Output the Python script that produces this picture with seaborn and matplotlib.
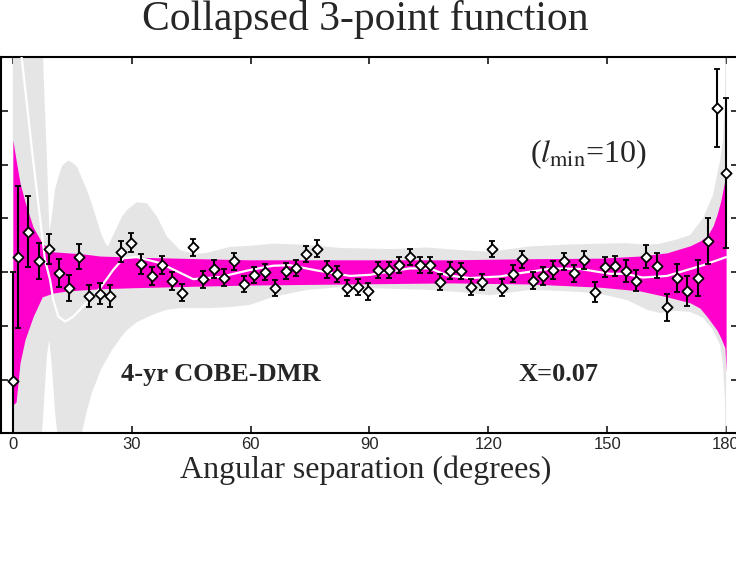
import numpy as np
import pandas as pd
import matplotlib.pyplot as plt
import seaborn as sns

# binned collapsed 3-point function: separation (deg), value, 1-sigma error
sep_deg = [0.0, 1.4, 3.9, 6.5, 9.1, 11.6, 14.2, 16.8, 19.3, 22.0,
           24.6, 27.2, 29.8, 32.3, 35.0, 37.6, 40.2, 42.8, 45.4, 48.0,
           50.7, 53.3, 55.9, 58.4, 60.9, 63.6, 66.2, 68.9, 71.5, 74.1,
           76.7, 79.2, 81.8, 84.4, 87.0, 89.7, 92.2, 94.9, 97.5, 100.1,
           102.7, 105.3, 107.8, 110.4, 113.0, 115.6, 118.3, 120.9, 123.5, 126.1,
           128.6, 131.2, 133.8, 136.4, 139.0, 141.6, 144.2, 146.8, 149.4, 152.0,
           154.7, 157.3, 159.9, 162.5, 165.1, 167.7, 170.2, 172.8, 175.4, 177.7,
           180.0]
c3_val = [-2.03, 0.28, 0.75, 0.21, 0.43, -0.02, -0.30, 0.29, -0.44, -0.40,
          -0.44, 0.38, 0.55, 0.15, -0.07, 0.13, -0.16, -0.38, 0.46, -0.13,
          0.06, -0.10, 0.20, -0.22, -0.05, 0.00, -0.30, 0.02, 0.08, 0.33,
          0.44, 0.05, -0.04, -0.29, -0.28, -0.36, 0.04, 0.04, 0.14, 0.28,
          0.14, 0.14, -0.18, 0.03, 0.02, -0.27, -0.18, 0.43, -0.29, -0.03,
          0.24, -0.16, -0.07, 0.04, 0.20, -0.02, 0.23, -0.37, 0.10, 0.12,
          0.02, -0.16, 0.29, 0.12, -0.65, -0.11, -0.35, -0.11, 0.58, 3.06,
          1.85]
c3_err = [2.03, 1.32, 0.66, 0.33, 0.28, 0.26, 0.24, 0.23, 0.21, 0.20,
          0.20, 0.20, 0.18, 0.18, 0.17, 0.17, 0.17, 0.16, 0.16, 0.16,
          0.16, 0.16, 0.155, 0.155, 0.155, 0.155, 0.15, 0.15, 0.15, 0.15,
          0.15, 0.15, 0.15, 0.15, 0.15, 0.15, 0.15, 0.15, 0.15, 0.15,
          0.15, 0.15, 0.15, 0.15, 0.15, 0.15, 0.15, 0.15, 0.16, 0.16,
          0.16, 0.16, 0.16, 0.16, 0.16, 0.16, 0.17, 0.19, 0.19, 0.19,
          0.20, 0.20, 0.22, 0.23, 0.25, 0.26, 0.28, 0.34, 0.43, 0.73,
          1.40]

# mean of the Gaussian model (white curve)
mean_deg = [1.3, 2.2, 5.1, 8.1, 9.4, 10.2, 11.5, 13.2, 15.2, 18.6,
            22.0, 25.3, 27.9, 31.3, 37.1, 45.5, 52.3, 59.8, 65.7, 69.9,
            76.8, 85.1, 90.1, 95.9, 100.2, 105.3, 109.6, 115.4, 122.9, 128.8,
            136.3, 143.1, 150.7, 154.5, 159.0, 165.1, 170.1, 174.2, 180.0]
mean_val = [5.07, 4.01, 2.09, 0.23, -0.15, -0.52, -0.83, -0.92, -0.83, -0.57,
            -0.30, 0.04, 0.26, 0.28, 0.17, -0.13, -0.09, 0.04, 0.12, 0.13,
            0.03, -0.07, -0.05, 0.02, 0.07, 0.07, -0.06, -0.11, -0.08, -0.01,
            0.07, 0.06, -0.03, -0.03, -0.10, -0.07, 0.04, 0.13, 0.28]

# 68% band (magenta)
band68_deg = [0.0, 0.8, 1.8, 3.05, 5.1, 7.4, 10.1, 13.7, 17.7, 22.0,
              30.3, 47.2, 59.8, 85.1, 110.3, 130.5, 148.2, 158.3, 165.1, 170.9,
              173.4, 175.2, 176.7, 177.7, 178.7, 179.7, 180.0]
band68_hi = [2.46, 2.09, 1.66, 1.31, 0.84, 0.54, 0.38, 0.36, 0.34, 0.30,
             0.28, 0.25, 0.23, 0.23, 0.23, 0.25, 0.26, 0.30, 0.36, 0.49,
             0.58, 0.67, 0.86, 1.07, 1.34, 1.72, 2.00]
band68_lo = [-2.47, -2.42, -1.69, -1.26, -0.83, -0.46, -0.39, -0.35, -0.33, -0.31,
             -0.29, -0.26, -0.24, -0.22, -0.20, -0.22, -0.28, -0.35, -0.46, -0.57,
             -0.67, -0.83, -0.98, -1.08, -1.23, -1.41, -1.86]

# 95% band (grey)
band95_deg = [0.0, 1.8, 4.3, 7.3, 7.6, 8.1, 8.6, 9.2, 9.9, 10.6,
              11.5, 12.4, 14.0, 15.2, 16.2, 17.4, 18.7, 20.0, 21.2, 22.2,
              23.3, 24.0, 25.0, 26.3, 27.5, 28.8, 31.3, 33.9, 36.4, 38.9,
              42.2, 46.0, 49.0, 54.8, 59.8, 65.7, 74.2, 82.6, 95.9, 104.5,
              112.8, 120.4, 130.5, 138.8, 147.4, 155.0, 160.0, 163.3, 167.1, 170.9,
              174.2, 176.7, 178.5, 179.2, 179.7, 180.0]
band95_hi = [6.0, 6.0, 6.0, 6.0, 4.01, 3.02, 2.09, 0.75, 1.07, 1.53,
             1.77, 1.98, 2.08, 2.03, 1.96, 1.75, 1.53, 1.25, 0.97, 0.73,
             0.54, 0.48, 0.64, 0.84, 1.03, 1.16, 1.30, 1.28, 1.03, 0.66,
             0.41, 0.34, 0.36, 0.47, 0.49, 0.53, 0.51, 0.45, 0.43, 0.46,
             0.41, 0.38, 0.48, 0.51, 0.53, 0.54, 0.51, 0.53, 0.60, 0.69,
             1.01, 1.44, 2.09, 2.46, 3.21, 6.0]
band95_lo = [-8.0, -8.0, -7.0, -3.0, -2.75, -2.10, -1.54, -1.26, -1.82, -2.57,
             -3.22, -4.06, -4.61, -4.52, -4.24, -3.0, -2.57, -2.23, -2.01, -1.82,
             -1.67, -1.58, -1.45, -1.32, -1.19, -1.08, -0.93, -0.84, -0.76, -0.70,
             -0.67, -0.67, -0.67, -0.65, -0.61, -0.46, -0.33, -0.28, -0.31, -0.33,
             -0.37, -0.43, -0.33, -0.35, -0.39, -0.52, -0.70, -0.76, -0.72, -0.74,
             -0.85, -1.08, -1.36, -1.73, -2.38, -4.24]

xticks = [0, 30, 60, 90, 120, 150, 180]

sns.set_theme(style="ticks")
plt.rcParams['font.family'] = ['Liberation Serif', 'DejaVu Serif']
plt.rcParams['mathtext.fontset'] = 'stix'

fig = plt.figure(figsize=(7.36, 5.72), dpi=100)
ax = fig.add_axes([1/736, (572-433.3)/572, 737/736, 376/572])

ax.fill_between(band95_deg, band95_lo, band95_hi, color='#e5e5e5', lw=0, zorder=1)
ax.fill_between(band68_deg, band68_lo, band68_hi, color='#ff00cc', lw=0, zorder=2)

df_mean = pd.DataFrame({'deg': mean_deg, 'val': mean_val})
sns.lineplot(data=df_mean, x='deg', y='val', color='white', lw=1.6, ax=ax, zorder=3)

ax.errorbar(sep_deg, c3_val, yerr=c3_err, fmt='none', ecolor='black',
            elinewidth=1.5, capsize=2.3, capthick=1.3, zorder=4)
df_pts = pd.DataFrame({'deg': sep_deg, 'val': c3_val})
sns.scatterplot(data=df_pts, x='deg', y='val', marker='D', s=27, color='white',
                edgecolor='black', linewidth=1.3, ax=ax, zorder=5)

ax.set_xlim(-3, 183)
ax.set_ylim(-3, 4)
ax.set_xticks(xticks)
ax.set_xticklabels([str(t) for t in xticks], fontfamily='Liberation Sans', fontsize=12)
ax.set_yticks(range(-3, 5))
ax.tick_params(direction='in', length=5, width=1.1, top=True, right=True,
               labelleft=False, pad=3, color='black')
for sp in ax.spines.values():
    sp.set_linewidth(1.5)
    sp.set_color('black')

ax.set_ylabel('')
ax.set_xlabel('Angular separation (degrees)', fontsize=23)
ax.xaxis.set_label_coords(0.495, -0.058)

ax.text(27.2, -2.03, '4-yr COBE-DMR', fontsize=19, fontweight='bold', va='baseline')
ax.text(127.7, -2.03, 'X=0.07', fontsize=19, fontweight='bold', va='baseline')
ax.text(130.5, 2.05, r'($l_{\rm min}$=10)', fontsize=23, va='baseline')

fig.text(0.497, 1 - 30/572, 'Collapsed 3-point function', fontsize=30,
         ha='center', va='baseline')

fig.savefig('out.png', dpi=100)
